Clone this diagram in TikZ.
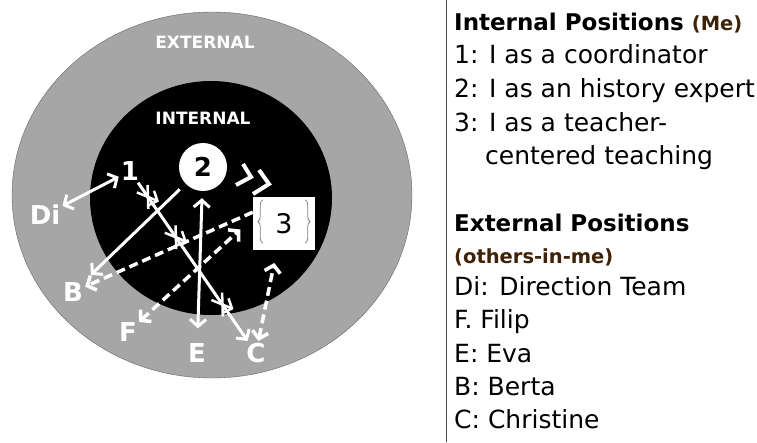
\documentclass[tikz,border=0pt]{standalone}
\usepackage{fontspec}
\setmainfont{DejaVu Sans}
\usepackage{xcolor}
\usetikzlibrary{arrows.meta}
\usetikzlibrary{calc}
\usetikzlibrary{decorations.pathreplacing}
\usetikzlibrary{decorations.markings}

\definecolor{ringgray}{RGB}{166,166,166}
\definecolor{mebrown}{RGB}{62,34,8}

\tikzset{
  lbl/.style={text=white,inner sep=2pt,font=\bfseries\fontsize{26}{26}\selectfont},
  ringlbl/.style={text=white,inner sep=0pt,font=\bfseries\fontsize{17}{17}\selectfont},
  link/.style={white,line width=3pt,-{Straight Barb[length=7pt,width=16pt]}},
  bilink/.style={link,{Straight Barb[length=7pt,width=16pt]}-{Straight Barb[length=7pt,width=16pt]}},
  dlink/.style={link,line width=3.5pt,dash pattern=on 9pt off 5pt},
  dbilink/.style={bilink,line width=3.5pt,dash pattern=on 9pt off 5pt},
  xcross/.style={white,line width=2.5pt,solid},
  chevron/.style={white,line width=4pt,line join=miter},
  legtxt/.style={anchor=base west,inner sep=0pt,font=\fontsize{25}{25}\selectfont},
  leghead/.style={anchor=base west,inner sep=0pt,font=\bfseries\fontsize{23}{23}\selectfont}
}

\begin{document}
\begin{tikzpicture}
    [line join=round,x=1pt,y=-1pt]
\useasboundingbox (0,0) rectangle (757,442);
%rings
\draw[fill=ringgray,draw=black!60,thin] (212,195) ellipse [x radius=200,y radius=183];
\fill[black] (211,198) ellipse [x radius=121,y radius=117];

\node[ringlbl] (ext) at (205,42) {EXTERNAL};
\node[ringlbl] (int) at (203,118) {INTERNAL};

%internal positions
\node[circle,fill=white,minimum size=48,inner sep=0pt,font=\bfseries\fontsize{26}{26}\selectfont] (n2) at (203,167) {2};
\node[fill=white,minimum width=62,minimum height=53,inner sep=0pt,font=\fontsize{27}{27}\selectfont] (n3) at (284,223.5) {3};
\draw[gray,line width=0.8pt,decorate,decoration={brace,amplitude=5pt}]
   ($(n3.south west)+(10,-7)$) -- ($(n3.north west)+(10,3)$);
\draw[gray,line width=0.8pt,decorate,decoration={brace,amplitude=5pt}]
   ($(n3.north east)+(-10,3)$) -- ($(n3.south east)+(-10,-7)$);
\node[lbl] (n1) at (130,171) {1};

%chevrons
\draw[chevron] (243,164) -- (251,177) -- (236,185);
\draw[chevron] (259,170) -- (269,184) -- (253,194);

%external positions
\node[lbl] (di) at (45,215) {Di};
\node[lbl] (b) at (73,292) {B};
\node[lbl] (f) at (128,332) {F};
\node[lbl] (e) at (197,353) {E};
\node[lbl] (c) at (256,353) {C};

%connectors
\draw[bilink] (di) -- (n1);
\draw[link,postaction={decorate},decoration={markings,
   mark=at position 0.09 with {\draw[xcross] (-10,-6.5) -- (10,6.5) (-10,6.5) -- (10,-6.5);},
   mark=at position 0.345 with {\draw[xcross] (-10,-6.5) -- (10,6.5) (-10,6.5) -- (10,-6.5);},
   mark=at position 0.77 with {\draw[xcross] (-10,-6.5) -- (10,6.5) (-10,6.5) -- (10,-6.5);}}]
   (n1) -- (c);
\draw[link,shorten <=8pt,shorten >=8pt] (n2) -- (b);
\draw[bilink,shorten <=7pt,shorten >=13pt] (n2) -- (e);
\draw[dlink] (n3.160) -- (b);
\draw[dbilink,shorten >=17pt] (f) -- (n3.170);
\draw[dbilink,shorten >=13pt] (c) -- (n3.255);

%legend
\draw[black!70,line width=1pt] (446,0) -- (446,442);
\node[leghead] (leg1) at (454,30) {Internal Positions {\fontsize{19.5}{19.5}\selectfont\color{mebrown}(Me)}};
\node[legtxt] (leg2) at (454,63) {1: I as a coordinator};
\node[legtxt] (leg3) at (454,97) {2: I as an history expert};
\node[legtxt] (leg4) at (454,131) {3: I as a teacher-};
\node[legtxt] (leg5) at (485,164) {centered teaching};
\node[leghead] (leg6) at (454,231) {External Positions};
\node[leghead,font=\bfseries\fontsize{19.5}{19.5}\selectfont,text=mebrown] (leg7) at (454,263) {(others-in-me)};
\node[legtxt] (leg8) at (454,295) {Di: Direction Team};
\node[legtxt] (leg9) at (454,328) {F. Filip};
\node[legtxt] (leg10) at (454,362) {E: Eva};
\node[legtxt] (leg11) at (454,395) {B: Berta};
\node[legtxt] (leg12) at (454,428) {C: Christine};
 \end{tikzpicture}
\end{document}
